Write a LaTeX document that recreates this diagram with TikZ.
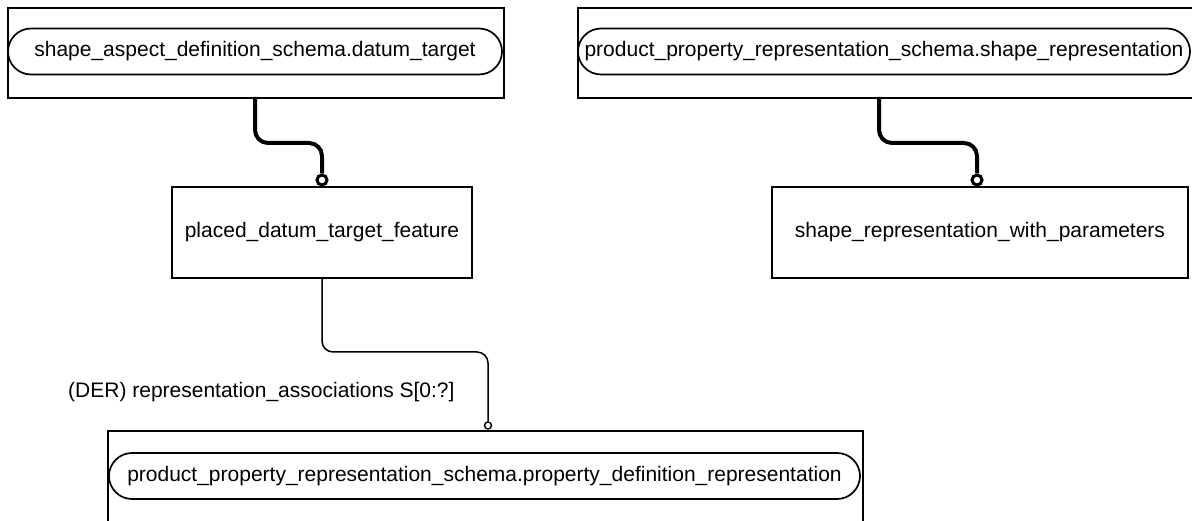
\documentclass[tikz,border=0pt]{standalone}
\usepackage{fontspec}
\setmainfont{Liberation Sans}
\usetikzlibrary{shapes.misc}
\begin{document}
\begin{tikzpicture}[x=1pt,y=-1pt,
  outerbox/.style={draw,line width=1.7pt,rectangle,anchor=north west,inner sep=0pt},
  pill/.style={draw,line width=1.7pt,rounded rectangle,minimum height=46pt,inner sep=0pt,font=\fontsize{21}{25}\selectfont},
  entity/.style={draw,line width=1.7pt,rectangle,inner sep=0pt,font=\fontsize{21}{25}\selectfont},
  thickconn/.style={line width=4pt,rounded corners=13pt},
  thinconn/.style={line width=1.5pt,rounded corners=11pt},
  bigo/.style={circle,draw,line width=3pt,minimum size=10pt,inner sep=0pt,fill=white},
  smallo/.style={circle,draw,line width=1.4pt,minimum size=7pt,inner sep=0pt,fill=white},
  lbl/.style={font=\fontsize{21}{25}\selectfont,anchor=west,inner sep=0pt}]
\useasboundingbox (0,0) rectangle (1192,521);
% top-left
\node[outerbox,minimum width=496pt,minimum height=90pt] (b1) at (7,7) {};
\node[pill,minimum width=494pt] (p1) at (255,51.5) {shape\_aspect\_definition\_schema.datum\_target};
% top-right
\node[outerbox,minimum width=620pt,minimum height=90pt] (b2) at (577,7) {};
\node[pill,minimum width=612pt] (p2) at (884,51.5) {product\_property\_representation\_schema.shape\_representation};
% middle entities
\node[entity,minimum width=300pt,minimum height=91pt] (e1) at (322,232.5) {placed\_datum\_target\_feature};
\node[entity,minimum width=416pt,minimum height=91pt] (e2) at (980,232.5) {shape\_representation\_with\_parameters};
% bottom
\node[outerbox,minimum width=755pt,minimum height=100pt] (b3) at (107,430) {};
\node[pill,minimum width=751pt] (p3) at (484.5,476) {product\_property\_representation\_schema.property\_definition\_representation};
% connectors
\node[bigo] (o1) at (322,180) {};
\node[bigo] (o2) at (977,180) {};
\node[smallo] (o3) at (488,425.5) {};
\coordinate (s1) at (255,97);
\coordinate (s2) at (879,97);
\draw[thickconn] (s1) -- (255,143) -- (322,143) -- (o1.north);
\draw[thickconn] (s2) -- (879,143) -- (977,143) -- (o2.north);
\draw[thinconn] (e1.south) -- (322,352) -- (488,352) -- (o3.north);
\node[lbl] (l1) at (68,392) {(DER) representation\_associations S[0:?]};
\end{tikzpicture}
\end{document}
